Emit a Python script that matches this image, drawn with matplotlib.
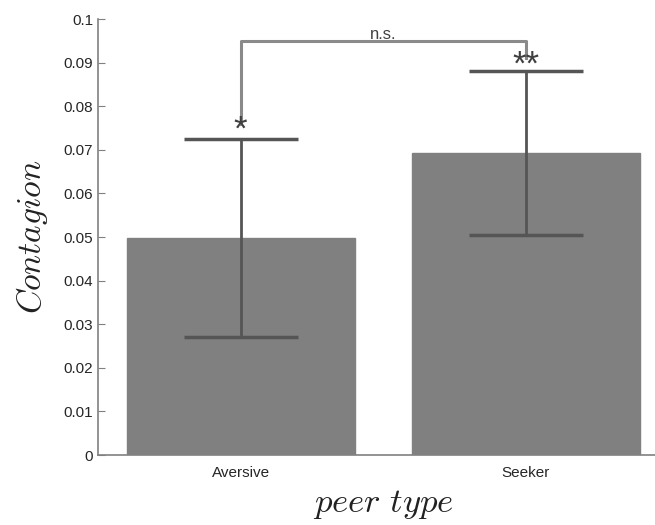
import matplotlib
matplotlib.use("Agg")
import matplotlib.pyplot as plt
import numpy as np

# data
categories = ["Aversive", "Seeker"]
means = [0.0498, 0.0693]
errors = [0.0227, 0.0188]
stars = ["*", "**"]
bracket_height = 0.095
star_heights = [0.0745, 0.0895]
yticks = [0, 0.01, 0.02, 0.03, 0.04, 0.05, 0.06, 0.07, 0.08, 0.09, 0.1]
ytick_labels = ["0", "0.01", "0.02", "0.03", "0.04", "0.05", "0.06", "0.07", "0.08", "0.09", "0.1"]

plt.rcParams["font.family"] = ["Liberation Sans", "DejaVu Sans"]
plt.rcParams["mathtext.fontset"] = "cm"

fig = plt.figure(figsize=(6.55, 5.25), dpi=100)
# axes run past the right edge, as in the cropped reference
ax = fig.add_axes([0.1496, 0.1333, 0.871, 0.8305])

x = np.arange(1, len(categories) + 1)
ax.bar(x, means, width=0.8, color="#808080", edgecolor="#808080", zorder=1)
ax.errorbar(x, means, yerr=errors, fmt="none", ecolor="#555555",
            elinewidth=2, capsize=41, capthick=2.5, zorder=3)

# significance bracket
bx = [x[0], x[0], x[1], x[1]]
by = [star_heights[0] + 0.0015, bracket_height, bracket_height, star_heights[1] + 0.0015]
ax.plot(bx, by, color="#8a8a8a", lw=2.2, zorder=2, clip_on=False)
ax.text((x[0] + x[1]) / 2, bracket_height - 0.0002, "n.s.", ha="center", va="bottom",
        fontsize=12, color="#404040")
for xi, s, h in zip(x, stars, star_heights):
    ax.text(xi, h, s, ha="center", va="center", fontsize=25, color="#404040", zorder=4)

ax.set_xlim(0.5, 2.5)
ax.set_ylim(0, 0.1)
ax.set_yticks(yticks)
ax.set_yticklabels(ytick_labels)
ax.set_xticks(x)
ax.set_xticklabels(categories)
ax.tick_params(axis="both", direction="in", labelsize=11, colors="#808080",
               labelcolor="#262626", length=5)
ax.tick_params(axis="x", length=0, pad=8)
for side in ["top", "right"]:
    ax.spines[side].set_visible(False)
for side in ["left", "bottom"]:
    ax.spines[side].set_color("#808080")
    ax.spines[side].set_linewidth(1.2)

ax.set_ylabel(r"$Contagion$", fontsize=24, color="#222222", labelpad=10)
ax.set_xlabel(r"$peer\ type$", fontsize=25, color="#222222", labelpad=6)

fig.savefig("out.png", dpi=100)
